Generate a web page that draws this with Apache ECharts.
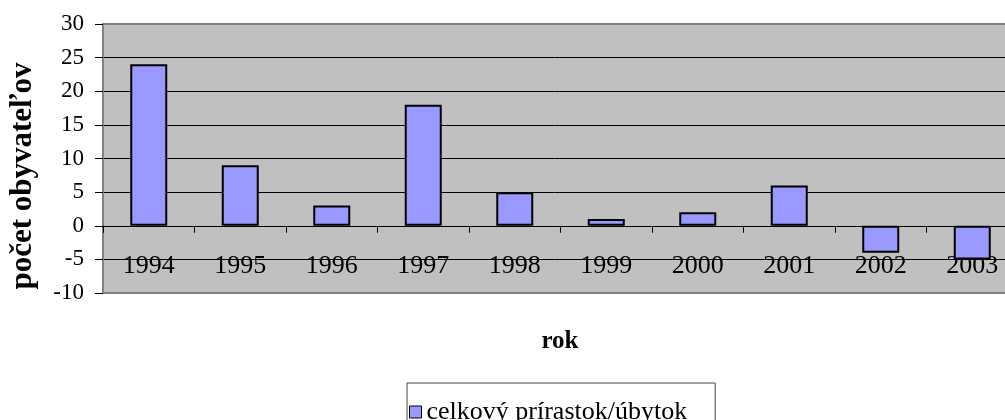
<!DOCTYPE html>
<html>
<head>
<meta charset="utf-8">
<script src="https://cdn.jsdelivr.net/npm/echarts@6/dist/echarts.min.js"></script>
<style>
html,body{margin:0;padding:0;background:#fff;}
#chart{width:1005px;height:420px;}
</style>
</head>
<body>
<div id="chart"></div>
<script>
const years = ['1994','1995','1996','1997','1998','1999','2000','2001','2002','2003'];
const values = [24, 9, 3, 18, 5, 1, 2, 6, -4, -5];
const seriesName = 'celkový prírastok/úbytok';
const yTitle = 'počet obyvateľov';
const xTitle = 'rok';
const yMin = -10, yMax = 30, yStep = 5;

const serif = '"Liberation Serif", "Times New Roman", serif';
const chart = echarts.init(document.getElementById('chart'));
chart.setOption({
  animation: false,
  backgroundColor: '#ffffff',
  grid: {
    left: 103, top: 24, width: 915, height: 269,
    outerBoundsMode: 'none',
    containLabel: false,
    show: true, backgroundColor: '#C0C0C0', borderColor: '#808080', borderWidth: 2
  },
  legend: {
    data: [seriesName],
    left: 407, top: 383,
    padding: [16, 28, 10, 2],
    borderColor: '#404040', borderWidth: 1,
    itemWidth: 12, itemHeight: 12,
    icon: 'rect',
    itemStyle: { borderColor: '#000', borderWidth: 1 },
    textStyle: { fontFamily: serif, fontSize: 26, color: '#000' }
  },
  xAxis: {
    type: 'category',
    data: years,
    axisLine: { onZero: true, lineStyle: { color: '#000', width: 1 } },
    axisTick: { show: true, length: 7, lineStyle: { color: '#000' } },
    axisLabel: { margin: -40, fontFamily: serif, fontSize: 26, color: '#000' },
    splitLine: { show: false }
  },
  yAxis: {
    type: 'value',
    min: yMin, max: yMax, interval: yStep,
    axisLine: { show: true, lineStyle: { color: '#808080', width: 1 } },
    axisTick: { show: true, length: 8, lineStyle: { color: '#000' } },
    axisLabel: { margin: 19, fontFamily: serif, fontSize: 23, color: '#000' },
    splitLine: { show: true, showMinLine: false, showMaxLine: false, lineStyle: { color: '#000', width: 1 } }
  },
  graphic: [
    {
      type: 'text', x: 23, y: 176, rotation: Math.PI / 2,
      style: { text: yTitle, align: 'center', verticalAlign: 'middle',
        font: 'bold 31px ' + serif, fill: '#000' }
    },
    {
      type: 'text', x: 560, y: 342,
      style: { text: xTitle, align: 'center', verticalAlign: 'middle',
        font: 'bold 25px ' + serif, fill: '#000' }
    }
  ],
  series: [{
    name: seriesName,
    type: 'bar',
    data: values,
    barWidth: 37,
    z: 3,
    itemStyle: { color: '#9999FF', borderColor: '#000', borderWidth: 2 }
  }]
});
</script>
</body>
</html>
